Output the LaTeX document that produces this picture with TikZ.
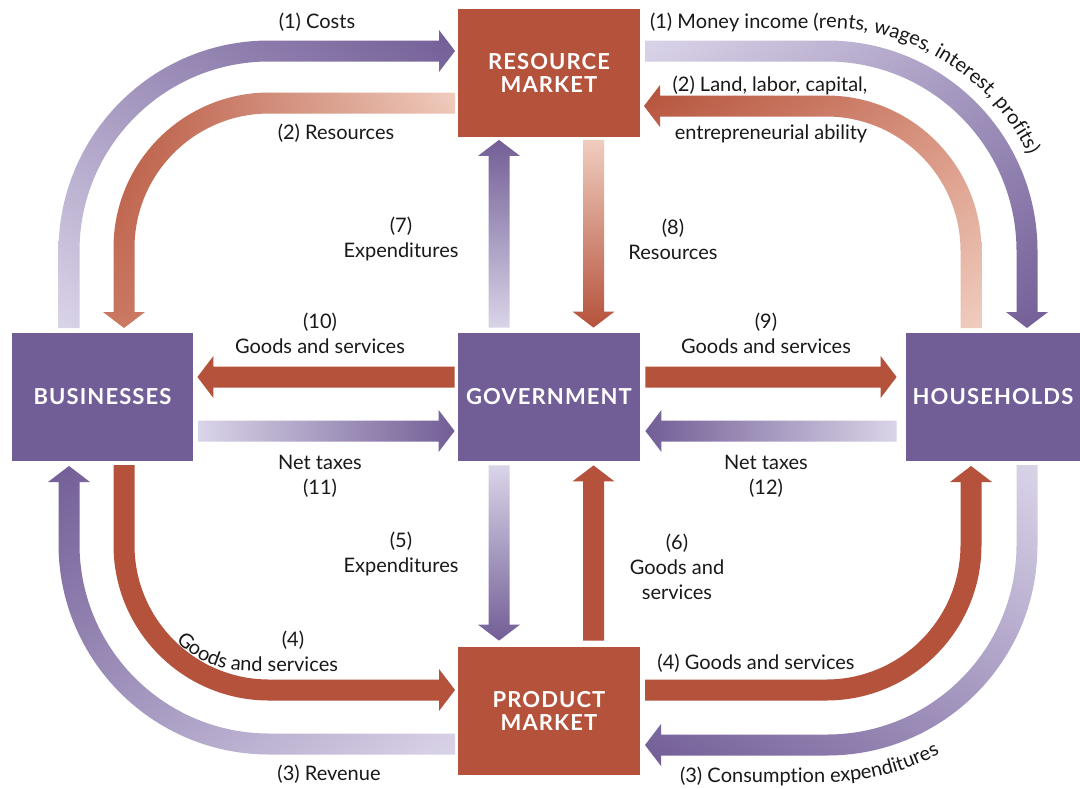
\documentclass[tikz,border=0pt]{standalone}
\usepackage{fontspec}
\setmainfont{Lato}
\newfontfamily\boxfont[LetterSpace=5]{Lato}
\usetikzlibrary{calc, shadings, decorations.text}

\definecolor{sectorpurple}{HTML}{725E96}
\definecolor{marketred}{HTML}{B5523B}
\definecolor{palepurple}{HTML}{DAD4E8}
\definecolor{midpurple}{HTML}{A193BD}
\definecolor{palered}{HTML}{F0CDBF}
\definecolor{midred}{HTML}{D7917C}
\colorlet{labelgray}{black!90}

% one rounded quarter turn of a broad flow (start, corner, end)
\newcommand{\bend}[3]{-- (#1) .. controls ($(#2)!.448!(#1)$) and ($(#2)!.448!(#3)$) .. (#3)}
% straight broad flows: style, tail, tip
\newcommand{\flowx}[3]{\path[#1] let \p1=(#2), \p2=(#3), \p3=($(#3)!8pt!(#2)$) in
  (\x1,\y2+5.25pt) -- (\x3,\y2+5.25pt) -- (\x3,\y2+10.5pt) -- (\x2,\y2)
  -- (\x3,\y2-10.5pt) -- (\x3,\y2-5.25pt) -- (\x1,\y2-5.25pt) -- cycle;}
\newcommand{\flowy}[3]{\path[#1] let \p1=(#2), \p2=(#3), \p3=($(#3)!8pt!(#2)$) in
  (\x2+5.25pt,\y1) -- (\x2+5.25pt,\y3) -- (\x2+10.5pt,\y3) -- (\x2,\y2)
  -- (\x2-10.5pt,\y3) -- (\x2-5.25pt,\y3) -- (\x2-5.25pt,\y1) -- cycle;}

\tikzset{
  sector/.style={fill=sectorpurple, text=white, inner sep=0pt, minimum width=91pt,
    minimum height=64pt, align=center, font=\boxfont\bfseries\fontsize{11}{11.5}\selectfont},
  market/.style={sector, fill=marketred},
  flowlabel/.style={font=\fontsize{10}{12.5}\selectfont, align=center, text=labelgray, inner sep=0pt},
  bentlabel/.style={decorate, decoration={text along path, text color=labelgray,
    text={|\fontsize{10}{12}\selectfont|#1}}},
}

\begin{document}
\begin{tikzpicture}[x=0.5pt, y=-0.5pt]
\useasboundingbox (0,0) rectangle (1080,788);
\fill[white] (0,0) rectangle (1080,788);

% boxes
\node[market] (rm) at (549,72.5) {RESOURCE\\MARKET};
\node[sector] (gov) at (549,397) {GOVERNMENT};
\node[sector, minimum width=90.5pt] (bus) at (102.5,397) {BUSINESSES};
\node[sector, minimum width=87pt] (hh) at (993,397) {HOUSEHOLDS};
\node[market] (pm) at (549,711) {PRODUCT\\MARKET};

% outer loops
\path[upper left=midpurple, upper right=sectorpurple, lower left=palepurple, lower right=midpurple]
  (58.5,328) \bend{58.5,251}{58.5,40.5}{269,40.5} -- (439,40.5) -- (439,30) -- (455,51) -- (439,72)
  -- (439,61.5) \bend{269,61.5}{79.5,61.5}{79.5,251} -- (79.5,328) -- cycle;
\path[upper left=palepurple, upper right=midpurple, lower right=sectorpurple, lower left=midpurple]
  (645,40.5) \bend{827,40.5}{1037.5,40.5}{1037.5,251} -- (1037.5,312) -- (1048,312) -- (1027,328)
  -- (1006,312) -- (1016.5,312) \bend{1016.5,251}{1016.5,61.5}{827,61.5} -- (645,61.5) -- cycle;
\path[upper left=sectorpurple, lower left=midpurple, lower right=palepurple, upper right=midpurple]
  (455,733.5) \bend{269,733.5}{79.5,733.5}{79.5,544} -- (79.5,482) -- (90,482) -- (69,466)
  -- (48,482) -- (58.5,482) \bend{58.5,544}{58.5,754.5}{269,754.5} -- (455,754.5) -- cycle;
\path[upper right=palepurple, lower right=midpurple, lower left=sectorpurple, upper left=midpurple]
  (1037.5,465) \bend{1037.5,545}{1037.5,755.5}{827,755.5} -- (661,755.5) -- (661,766) -- (645,745)
  -- (661,724) -- (661,734.5) \bend{827,734.5}{1016.5,734.5}{1016.5,545} -- (1016.5,465) -- cycle;

% inner loops
\path[upper left=marketred, upper right=palered, lower left=midred!60!marketred, lower right=midred]
  (455,92.5) \bend{269,92.5}{113.5,92.5}{113.5,248} -- (113.5,312) -- (103,312) -- (124,328)
  -- (145,312) -- (134.5,312) \bend{134.5,248}{134.5,113.5}{269,113.5} -- (455,113.5) -- cycle;
\path[upper left=marketred, upper right=midred, lower right=palered, lower left=midred]
  (981.5,328) \bend{981.5,251}{981.5,95.5}{826,95.5} -- (660,95.5) -- (660,85) -- (644,106)
  -- (660,127) -- (660,116.5) \bend{826,116.5}{960.5,116.5}{960.5,251} -- (960.5,328) -- cycle;
\path[fill=marketred]
  (113.5,465) \bend{113.5,545}{113.5,700.5}{269,700.5} -- (439,700.5) -- (439,711) -- (455,690)
  -- (439,669) -- (439,679.5) \bend{269,679.5}{134.5,679.5}{134.5,545} -- (134.5,465) -- cycle;
\path[fill=marketred]
  (645,700.5) \bend{826,700.5}{981.5,700.5}{981.5,545} -- (981.5,482) -- (992,482) -- (971,466)
  -- (950,482) -- (960.5,482) \bend{960.5,545}{960.5,679.5}{826,679.5} -- (645,679.5) -- cycle;

% government flows
\flowy{bottom color=palepurple, top color=sectorpurple}{$(gov.north)+(-50,-5)$}{$(rm.south)+(-50,3)$}
\flowy{top color=palered, bottom color=marketred}{$(rm.south)+(44.5,3)$}{$(gov.north)+(44.5,-5)$}
\flowy{top color=palepurple, bottom color=sectorpurple}{$(gov.south)+(-50,4)$}{$(pm.north)+(-50,-6)$}
\flowy{fill=marketred}{$(pm.north)+(44.5,-6)$}{$(gov.south)+(44.5,4)$}
\flowx{fill=marketred}{$(gov.west)+(-3,-20)$}{$(bus.east)+(4,-20)$}
\flowx{left color=palepurple, right color=sectorpurple}{$(bus.east)+(5,34)$}{$(gov.west)+(-3,34)$}
\flowx{fill=marketred}{$(gov.east)+(5,-20)$}{$(hh.west)+(-9,-20)$}
\flowx{right color=palepurple, left color=sectorpurple}{$(hh.west)+(-9,34)$}{$(gov.east)+(5,34)$}

% labels
\node[flowlabel] (costs) at (317,22) {(1) Costs};
\node[flowlabel] (resources) at (336,133) {(2) Resources};
\node[flowlabel] (factors) at (770,85) {(2) Land, labor, capital,};
\node[flowlabel] (ability) at (771,134) {entrepreneurial ability};
\node[flowlabel] (exp7) at (401,239) {(7)\\Expenditures};
\node[flowlabel] (res8) at (673,239) {(8)\\Resources};
\node[flowlabel] (goods10) at (320,333) {(10)\\Goods and services};
\node[flowlabel] (goods9) at (766,333) {(9)\\Goods and services};
\node[flowlabel] (tax11) at (320,476) {Net taxes\\(11)};
\node[flowlabel] (tax12) at (766,476) {Net taxes\\(12)};
\node[flowlabel] (exp5) at (401,554) {(5)\\Expenditures};
\node[flowlabel] (goods6) at (677,567) {(6)\\Goods and\\services};
\node[flowlabel] (num4) at (293,640) {(4)};
\node[flowlabel] (goods4) at (756,663) {(4) Goods and services};
\node[flowlabel] (rev3) at (329,774) {(3) Revenue};
\path[bentlabel={(1) Money income (rents, wages, interest, profits)}]
  (650,28) -- (827,28) .. controls (950,28) and (1050,128) .. (1050,251);
\path[bentlabel={(3) Consumption expenditures}]
  (680,782) -- (827,782) .. controls (958,782) and (1064,676) .. (1064,545);
\path[bentlabel={Goods and services}]
  (176,641) .. controls (195,660) and (220,671) .. (250,671) -- (420,671);
\end{tikzpicture}
\end{document}
